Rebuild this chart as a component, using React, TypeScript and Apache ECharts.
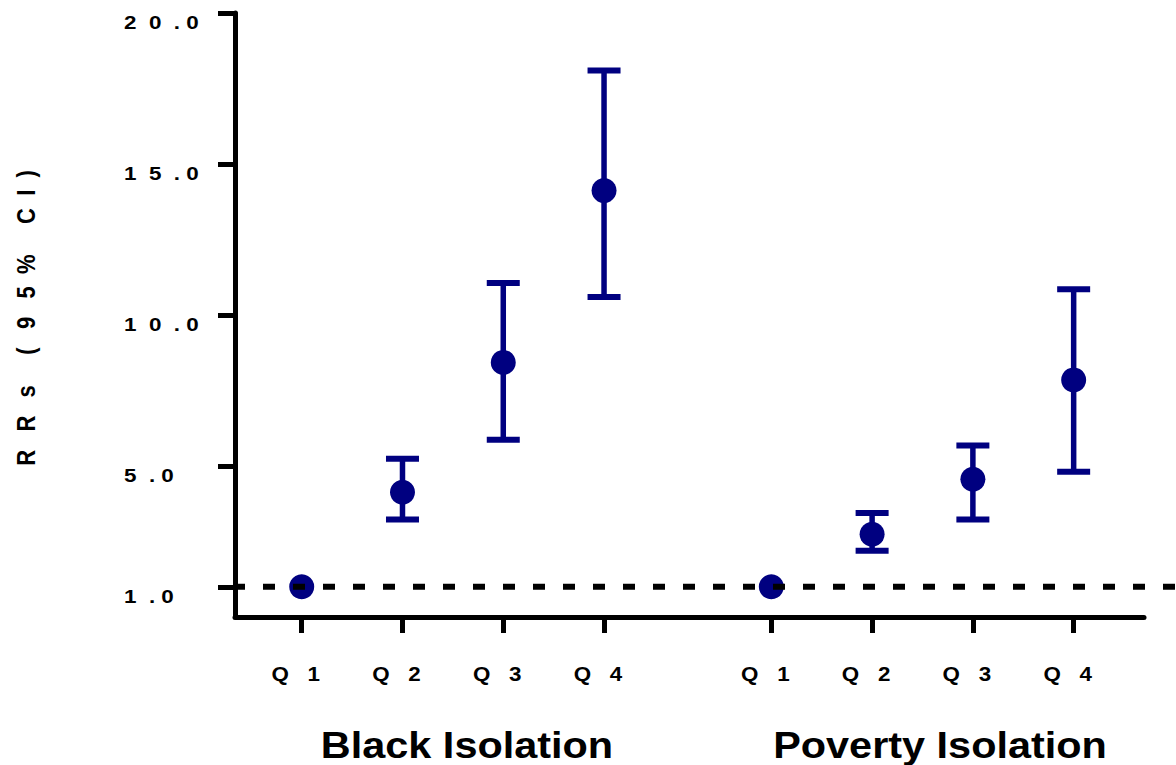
import React, { useEffect, useRef } from "react";
import * as echarts from "echarts";

// ---- data ----
const groupTitles = ["Black Isolation", "Poverty Isolation"];
const quartileLabels = ["Q1", "Q2", "Q3", "Q4", "Q1", "Q2", "Q3", "Q4"];
const xPositions = [1, 2, 3, 4, 5.66, 6.66, 7.66, 8.66];
const rrValues = [1.0, 4.13, 8.43, 14.12, 1.0, 2.74, 4.56, 7.85];
const ciLower: (number | null)[] = [null, 3.23, 5.87, 10.6, null, 2.19, 3.23, 4.81];
const ciUpper: (number | null)[] = [null, 5.24, 11.06, 18.1, null, 3.44, 5.68, 10.85];
const yTickValues = [1, 5, 10, 15, 20];
const yTickLabels = ["1.0", "5.0", "10.0", "15.0", "20.0"];
const yAxisTitle = "RRs (95% CI)";
const referenceRR = 1;
const xMin = 0.338;
const xMax = 9.358;

const NAVY = "#000080";
const FONT = "Liberation Sans, Arial, Helvetica, sans-serif";
const SP = "\u00A0";

function sp(n: number): string {
  return SP.repeat(n);
}

// "20.0" -> "2  0  . 0" (wide letter spacing as in the original figure)
function spaceTick(s: string): string {
  let out = "";
  for (let i = 0; i < s.length; i++) {
    out += s[i];
    if (i < s.length - 1) out += s[i] === "." ? sp(1) : sp(2);
  }
  return out;
}

function spaceQuartile(s: string): string {
  return s.split("").join(sp(3));
}

function spaceTitle(s: string): string {
  // letter-spaced title: wider gaps between words
  const gaps: Record<string, number> = { "R|R": 3, "R|s": 3, "(|9": 3, "9|5": 3, "5|%": 2, "C|I": 2, "I|)": 2 };
  const words = s.split(" ");
  return words
    .map((w) => {
      let out = "";
      for (let i = 0; i < w.length; i++) {
        out += w[i];
        if (i < w.length - 1) out += sp(gaps[w[i] + "|" + w[i + 1]] ?? 2);
      }
      return out;
    })
    .join(sp(5));
}

export default function App() {
  const ref = useRef<HTMLDivElement>(null);

  useEffect(() => {
    if (!ref.current) return;
    const chart = echarts.init(ref.current, null, { renderer: "svg" });

    const pointData = xPositions.map((x, i) => [x, rrValues[i]]);
    const errData: number[][] = [];
    xPositions.forEach((x, i) => {
      const lo = ciLower[i];
      const hi = ciUpper[i];
      if (lo != null && hi != null) errData.push([x, lo, hi]);
    });

    const option: any = {
      animation: false,
      backgroundColor: "#ffffff",
      grid: { left: 235, right: 32, top: 13, bottom: 148 },
      xAxis: {
        type: "value",
        min: xMin,
        max: xMax,
        splitLine: { show: false },
        axisLine: { show: true, lineStyle: { color: "#000", width: 5 } },
        axisTick: {
          show: true,
          customValues: xPositions,
          length: 16,
          inside: false,
          lineStyle: { color: "#000", width: 5 },
        },
        axisLabel: { show: false },
      },
      yAxis: {
        type: "value",
        min: 0,
        max: 20,
        splitLine: { show: false },
        axisLine: { show: true, lineStyle: { color: "#000", width: 5 } },
        axisTick: {
          show: true,
          customValues: yTickValues,
          length: 17,
          inside: false,
          lineStyle: { color: "#000", width: 5 },
        },
        axisLabel: { show: false },
      },
      series: [
        {
          type: "custom",
          name: "CI",
          data: errData,
          encode: { x: 0, y: [1, 2] },
          z: 2,
          renderItem: (params: any, api: any) => {
            const x = api.value(0);
            const lo = api.coord([x, api.value(1)]);
            const hi = api.coord([x, api.value(2)]);
            const half = 16.5;
            return {
              type: "group",
              children: [
                {
                  type: "line",
                  shape: { x1: lo[0], y1: lo[1], x2: hi[0], y2: hi[1] },
                  style: { stroke: NAVY, lineWidth: 5.5 },
                },
                {
                  type: "line",
                  shape: { x1: hi[0] - half, y1: hi[1], x2: hi[0] + half, y2: hi[1] },
                  style: { stroke: NAVY, lineWidth: 6 },
                },
                {
                  type: "line",
                  shape: { x1: lo[0] - half, y1: lo[1], x2: lo[0] + half, y2: lo[1] },
                  style: { stroke: NAVY, lineWidth: 6 },
                },
              ],
            };
          },
        },
        {
          type: "scatter",
          name: "RR",
          data: pointData,
          symbol: "circle",
          symbolSize: 25,
          itemStyle: { color: NAVY, opacity: 1 },
          z: 3,
        },
        {
          type: "custom",
          name: "Reference",
          data: [[xMin, referenceRR]],
          clip: false,
          z: 5,
          renderItem: (params: any, api: any) => {
            const p = api.coord([api.value(0), api.value(1)]);
            return {
              type: "line",
              shape: { x1: p[0] - 2, y1: p[1], x2: api.getWidth(), y2: p[1] },
              style: { stroke: "#000", lineWidth: 6, lineDash: [12, 18] },
            };
          },
        },
      ],
    };

    chart.setOption(option);

    // Labels drawn as (horizontally widened) text, positioned through the axes' scales
    const graphics: any[] = [];
    yTickValues.forEach((v, i) => {
      const p = chart.convertToPixel({ gridIndex: 0 }, [xMin, v]) as number[];
      graphics.push({
        type: "text",
        x: p[0] - 111,
        y: p[1],
        scaleX: 1.18,
        silent: true,
        style: {
          text: spaceTick(yTickLabels[i]),
          fill: "#000",
          font: `bold 19px ${FONT}`,
          align: "left",
          verticalAlign: "top",
        },
      });
    });
    xPositions.forEach((x, i) => {
      const p = chart.convertToPixel({ gridIndex: 0 }, [x, 0]) as number[];
      graphics.push({
        type: "text",
        x: p[0] - 6,
        y: p[1] + 47,
        scaleX: 1.12,
        silent: true,
        style: {
          text: spaceQuartile(quartileLabels[i]),
          fill: "#000",
          font: `bold 20px ${FONT}`,
          align: "center",
          verticalAlign: "top",
        },
      });
    });
    const top = chart.convertToPixel({ gridIndex: 0 }, [xMin, 20]) as number[];
    const bottom = chart.convertToPixel({ gridIndex: 0 }, [xMin, 0]) as number[];
    graphics.push({
      type: "text",
      x: 26,
      y: (top[1] + bottom[1]) / 2 + 3,
      rotation: Math.PI / 2,
      scaleY: 1.15,
      silent: true,
      style: {
        text: spaceTitle(yAxisTitle),
        fill: "#000",
        font: `bold 22px ${FONT}`,
        align: "center",
        verticalAlign: "middle",
      },
    });
    const groupCenters = [467, 940];
    groupTitles.forEach((t, i) => {
      graphics.push({
        type: "text",
        x: groupCenters[i],
        y: 745,
        scaleX: 1.12,
        silent: true,
        style: {
          text: t,
          fill: "#000",
          font: `bold 37px ${FONT}`,
          align: "center",
          verticalAlign: "middle",
        },
      });
    });
    chart.setOption({ graphic: graphics });

    return () => chart.dispose();
  }, []);

  return (
    <div
      ref={ref}
      style={{ position: "fixed", left: 0, top: 0, width: 1176, height: 765, background: "#fff" }}
    />
  );
}
